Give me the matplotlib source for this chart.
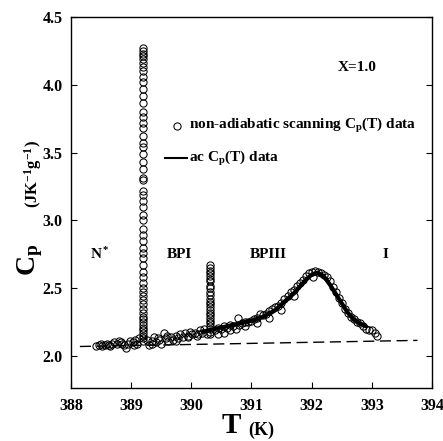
import matplotlib
matplotlib.use('Agg')
import matplotlib.pyplot as plt
import numpy as np

plt.rcParams['font.family'] = ['Liberation Serif', 'DejaVu Serif']
plt.rcParams['font.weight'] = 'bold'
plt.rcParams['mathtext.fontset'] = 'custom'
plt.rcParams['mathtext.rm'] = 'Liberation Serif:bold'
plt.rcParams['mathtext.it'] = 'Liberation Serif:bold'
plt.rcParams['mathtext.bf'] = 'Liberation Serif:bold'

# non-adiabatic scanning data (background)
T_scan = [388.42, 388.47, 388.52, 388.56, 388.60, 388.63, 388.68, 388.72, 388.76, 388.80,
          388.84, 388.88, 388.91, 388.95, 388.99, 389.03, 389.07, 389.10, 389.14, 389.26,
          389.30, 389.34, 389.38, 389.42, 389.46, 389.50, 389.55, 389.58, 389.62, 389.66,
          389.70, 389.74, 389.78, 389.82, 389.86, 389.90, 389.94, 389.98, 390.02, 390.06,
          390.10, 390.14, 390.18, 390.22, 390.26, 390.40, 390.45, 390.50, 390.55, 390.60,
          390.65, 390.70, 390.77, 390.80, 390.85, 390.90, 390.95, 391.00, 391.05, 391.10,
          391.15, 391.20, 391.25, 391.30, 391.35, 391.40, 391.45, 391.50, 391.55, 391.60,
          391.65, 391.70, 391.75, 391.80, 391.85, 391.90, 391.95, 392.00, 392.03, 392.05,
          392.10, 392.15, 392.20, 392.25, 392.30, 392.35, 392.40, 392.45, 392.50, 392.55,
          392.60, 392.65, 392.70, 392.75, 392.80, 392.85, 392.90, 392.95, 393.00, 393.05,
          393.08, 390.45, 390.55, 390.65, 390.75, 390.90, 391.10, 391.30, 391.50, 391.70,
          388.50, 388.65, 388.85, 389.05, 389.35, 389.45, 389.60, 389.75, 389.95, 390.12]
Cp_scan = [2.07, 2.08, 2.07, 2.08, 2.09, 2.08, 2.09, 2.10, 2.09, 2.11,
           2.10, 2.08, 2.06, 2.09, 2.11, 2.10, 2.12, 2.09, 2.13, 2.12,
           2.08, 2.11, 2.14, 2.10, 2.12, 2.09, 2.17, 2.13, 2.11, 2.14,
           2.12, 2.15, 2.13, 2.16, 2.14, 2.17, 2.15, 2.18, 2.16, 2.17,
           2.15, 2.19, 2.17, 2.20, 2.16, 2.19, 2.21, 2.20, 2.22, 2.21,
           2.23, 2.22, 2.28, 2.23, 2.24, 2.25, 2.25, 2.26, 2.27, 2.28,
           2.31, 2.30, 2.31, 2.33, 2.35, 2.36, 2.37, 2.39, 2.42, 2.44,
           2.47, 2.49, 2.52, 2.54, 2.56, 2.59, 2.61, 2.62, 2.58, 2.63,
           2.62, 2.61, 2.60, 2.58, 2.55, 2.51, 2.47, 2.43, 2.39, 2.35,
           2.32, 2.29, 2.27, 2.25, 2.24, 2.22, 2.20, 2.19, 2.19, 2.17,
           2.15, 2.16, 2.17, 2.19, 2.20, 2.22, 2.24, 2.28, 2.34, 2.44,
           2.09, 2.07, 2.09, 2.08, 2.09, 2.13, 2.15, 2.11, 2.14, 2.16]

# N* - BPI transition spike
T_spike1 = 389.20
Cp_spike1 = [4.27, 4.25, 4.23, 4.21, 4.19, 4.16, 4.13, 4.10, 4.06, 4.02, 3.97, 3.92,
             3.87, 3.80, 3.76, 3.72, 3.68, 3.62, 3.57, 3.54, 3.49, 3.43, 3.38, 3.31,
             3.30, 3.22, 3.19, 3.14, 3.10, 3.04, 3.00, 2.94, 2.89, 2.85, 2.80, 2.76,
             2.72, 2.67, 2.62, 2.58, 2.54, 2.50, 2.47, 2.44, 2.41, 2.38, 2.35, 2.32,
             2.29, 2.27, 2.25, 2.23, 2.21, 2.19, 2.17, 2.15, 2.13, 2.11]

# BPI - BPIII transition spike
T_spike2 = 390.32
Cp_spike2 = [2.67, 2.65, 2.63, 2.61, 2.59, 2.57, 2.55, 2.52, 2.50, 2.47, 2.45, 2.42,
             2.40, 2.38, 2.36, 2.34, 2.32, 2.30, 2.28, 2.26, 2.24, 2.22, 2.20, 2.18, 2.16]

# ac calorimetry
T_ac = [390.2, 390.4, 390.6, 390.8, 391.0, 391.2, 391.4, 391.5, 391.6, 391.7, 391.8, 391.9,
        392.0, 392.1, 392.2, 392.3, 392.4, 392.5, 392.6, 392.7, 392.8, 392.9]
Cp_ac = [2.18, 2.20, 2.22, 2.24, 2.26, 2.29, 2.34, 2.38, 2.42, 2.46, 2.51, 2.56,
         2.60, 2.615, 2.59, 2.53, 2.46, 2.39, 2.32, 2.27, 2.24, 2.22]

# background line
T_bg = [388.15, 393.76]
Cp_bg = [2.07, 2.115]

phases = ['N$^*$', 'BPI', 'BPIII', 'I']
phase_T = [388.48, 389.8, 391.28, 393.22]

fig = plt.figure(figsize=(4.43, 4.41), dpi=100)
ax = fig.add_axes([0.160, 0.120, 0.815, 0.841])

ax.plot(T_bg, Cp_bg, color='black', lw=1.0, dashes=(8, 4))
ax.plot(T_ac, Cp_ac, color='black', lw=3.0, solid_capstyle='round')
mk = dict(ls='none', marker='o', ms=5.2, mfc='none', mec='black', mew=0.75)
ax.plot(T_scan, Cp_scan, **mk)
ax.plot([T_spike1] * len(Cp_spike1), Cp_spike1, **mk)
ax.plot([T_spike2] * len(Cp_spike2), Cp_spike2, **mk)

ax.set_xlim(388, 394)
ax.set_ylim(1.763, 4.5)
ax.set_xticks([388, 389, 390, 391, 392, 393, 394])
ax.set_yticks([2.0, 2.5, 3.0, 3.5, 4.0, 4.5])
ax.set_yticklabels(['2.0', '2.5', '3.0', '3.5', '4.0', '4.5'])
ax.tick_params(direction='in', length=4, width=0.8, labelsize=11.5, right=True, top=False)
ax.tick_params(axis='x', pad=7)
ax.tick_params(axis='y', pad=6)
for s in ax.spines.values():
    s.set_linewidth(1.0)

for lab, t in zip(phases, phase_T):
    ax.text(t, 2.75, lab, fontsize=11, ha='center', va='center')
ax.text(392.75, 4.13, 'X=1.0', fontsize=11, ha='center', va='center')

# legend drawn by hand
ax.plot([389.77], [3.7], **mk)
ax.text(389.97, 3.7, 'non-adiabatic scanning C$_\\mathregular{p}$(T) data', fontsize=11, va='center')
ax.plot([389.57, 389.93], [3.46, 3.46], color='black', lw=1.5)
ax.text(389.97, 3.46, 'ac C$_\\mathregular{p}$(T) data', fontsize=11, va='center')

# axis labels
fig.text(0.543, 0.005, 'T', fontsize=21, ha='right', va='bottom')
fig.text(0.560, 0.005, '(K)', fontsize=13, ha='left', va='bottom')
fig.text(0.035, 0.41, 'C$_\\mathregular{p}$', fontsize=20, rotation=90, ha='left', va='center')
fig.text(0.050, 0.605, '(JK$^{-1}$g$^{-1}$)', fontsize=12, rotation=90, ha='left', va='center')

fig.savefig('out.png', dpi=100)
